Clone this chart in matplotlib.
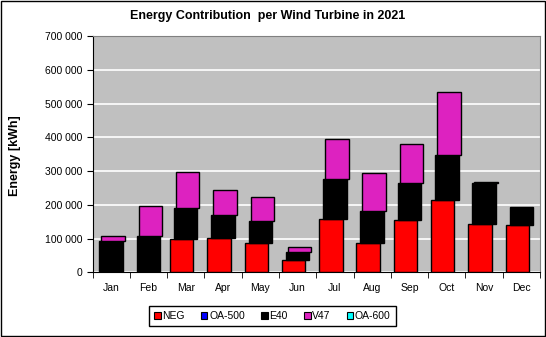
import numpy as np
import matplotlib.pyplot as plt
from matplotlib.patches import Rectangle

plt.rcParams['font.family'] = ['Liberation Sans', 'DejaVu Sans']

# Monthly energy contribution per turbine type (kWh)
months = ['Jan', 'Feb', 'Mar', 'Apr', 'May', 'Jun', 'Jul', 'Aug', 'Sep', 'Oct', 'Nov', 'Dec']
neg = [0, 0, 99000, 101000, 87000, 36500, 157000, 86000, 154000, 213500, 142500, 139500]
oa500 = [0] * 12
e40 = [93000, 107000, 91000, 69000, 65000, 24000, 119000, 96000, 110000, 133500, 122500, 54000]
v47 = [14000, 89000, 107000, 73000, 70500, 14000, 118500, 112000, 116000, 187000, 2000, 0]
oa600 = [0] * 12

series = [('NEG', neg, '#FF0000'), ('OA-500', oa500, '#0000FF'), ('E40', e40, '#000000'),
          ('V47', v47, '#DD22C0'), ('OA-600', oa600, '#00FFFF')]

fig = plt.figure(figsize=(5.46, 3.37), dpi=100)
fig.patches.append(Rectangle((0.001, 0.002), 0.997, 0.995, transform=fig.transFigure,
                             fill=False, edgecolor='black', linewidth=1))

ax = fig.add_axes([92.5 / 546, 1 - 272.3 / 337, 447.5 / 546, 236 / 337])
ax.set_facecolor('#C0C0C0')

x = np.arange(len(months))
width = 0.63
step = 0.054
bottom = np.zeros(len(months))
for i, (name, vals, col) in enumerate(series):
    vals = np.array(vals, dtype=float)
    mask = vals > 0
    ax.bar(x[mask] + (i - 2) * step, vals[mask], width, bottom=bottom[mask],
           color=col, edgecolor='black', linewidth=1, zorder=3)
    bottom += vals

ax.set_xlim(-0.5, 11.5)
ax.set_ylim(0, 700000)
ax.set_yticks(np.arange(0, 700001, 100000))
ax.set_yticklabels([f'{v:,}'.replace(',', ' ') for v in range(0, 700001, 100000)], fontsize=7.5)
ax.yaxis.grid(True, color='white', linewidth=1.2, zorder=0)
ax.set_axisbelow(True)

ax.set_xticks(x)
ax.set_xticklabels(months, fontsize=7.5)
ax.tick_params(axis='x', length=0, pad=8)
ax.set_xticks(np.arange(-0.5, 12, 1), minor=True)
ax.tick_params(axis='x', which='minor', length=4, direction='out', color='black')
ax.tick_params(axis='y', length=4, direction='out', pad=3)

ax.spines['left'].set_color('black')
ax.spines['bottom'].set_color('black')
ax.spines['top'].set_color('#808080')
ax.spines['right'].set_color('#808080')

fig.text(0.491, 1 - 15.7 / 337, 'Energy Contribution  per Wind Turbine in 2021',
         ha='center', va='center', fontsize=9, fontweight='bold')
fig.text(15 / 546, 1 - 156 / 337, 'Energy [kWh]', rotation=90, ha='center', va='center',
         fontsize=9, fontweight='bold')

handles = [Rectangle((0, 0), 1, 1, facecolor=c, edgecolor='black', linewidth=0.8) for _, _, c in series]
leg = fig.legend(handles, [s[0] for s in series], loc='center', ncol=5,
                 bbox_to_anchor=(272.5 / 546, 1 - 316 / 337), fontsize=7.5,
                 frameon=True, fancybox=False, edgecolor='black', framealpha=1,
                 handlelength=0.6, handleheight=0.6, handletextpad=0.15,
                 columnspacing=1.6, borderpad=0.5)
leg.get_frame().set_linewidth(1)

fig.savefig('out.png', dpi=100)
